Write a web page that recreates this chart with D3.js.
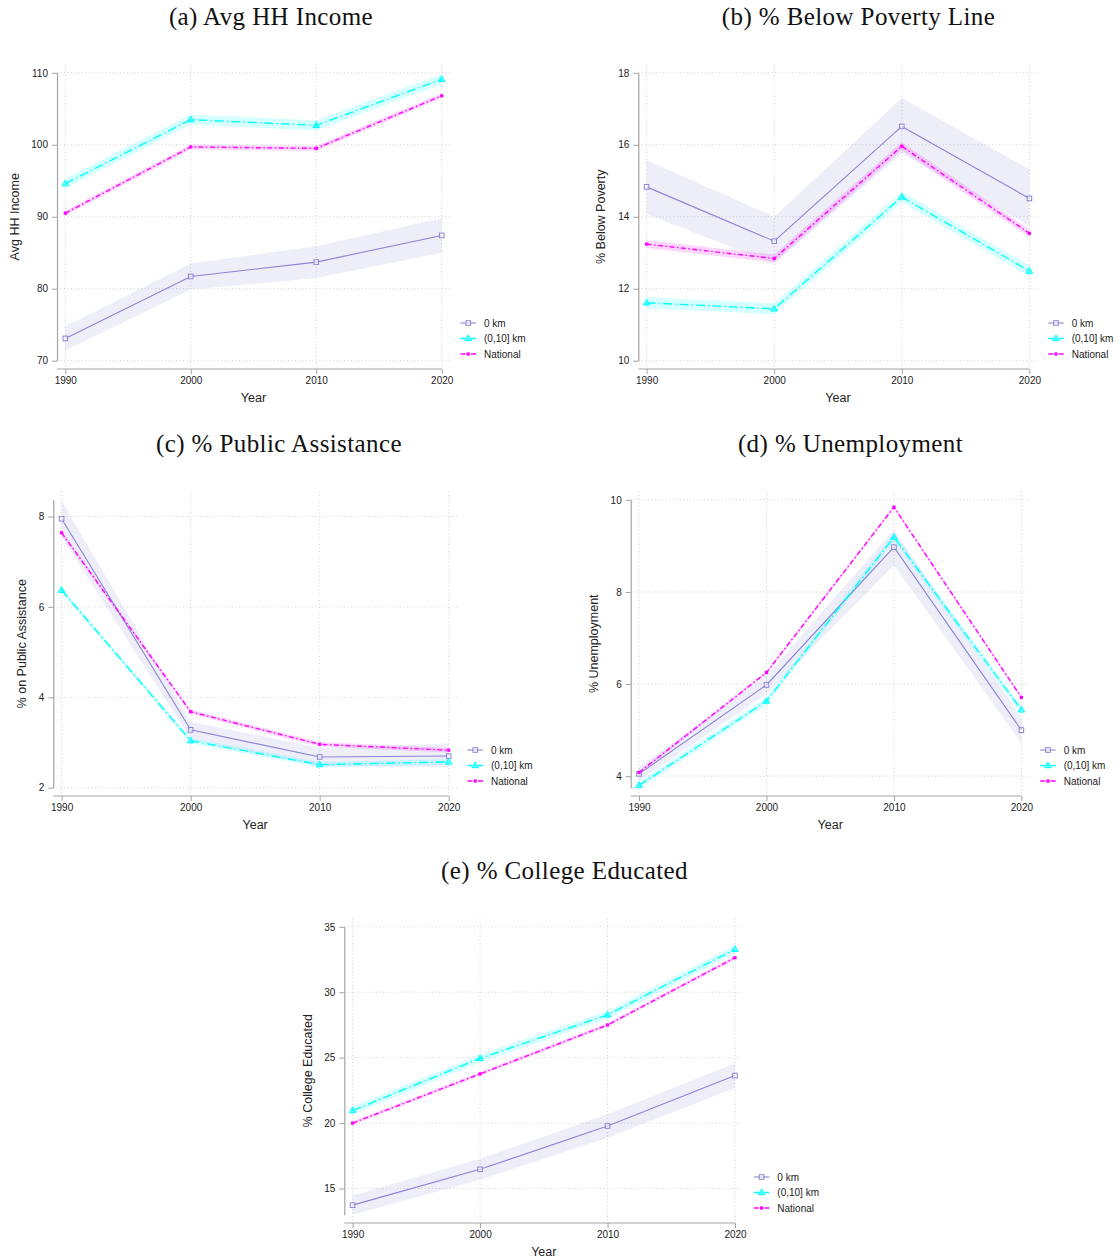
<!DOCTYPE html>
<html>
<head>
<meta charset="utf-8">
<script src="https://cdn.jsdelivr.net/npm/d3@7"></script>
<style>
  body { margin: 0; background: #fff; }
  text { font-family: "Liberation Sans", Arial, Helvetica, sans-serif; }
</style>
</head>
<body>
<svg id="chart" width="1120" height="1260"></svg>
<script>
// ---- data -------------------------------------------------------------
const years = [1990, 2000, 2010, 2020];
const seriesLabels = ["0 km", "(0,10] km", "National"];

// (a) Average household income
const incomeZero   = [73.1, 81.7, 83.7, 87.4];
const incomeZeroLo = [71.4, 79.9, 81.5, 85.0];
const incomeZeroHi = [74.8, 83.5, 85.9, 89.8];
const incomeNear   = [94.6, 103.5, 102.7, 109.1];
const incomeNearLo = [94.0, 102.8, 102.0, 108.4];
const incomeNearHi = [95.3, 104.2, 103.4, 109.8];
const incomeNat    = [90.5, 99.7, 99.5, 106.8];
const incomeNatLo  = [90.15, 99.35, 99.15, 106.45];
const incomeNatHi  = [90.85, 100.05, 99.85, 107.15];
const incomeTicks  = [70, 80, 90, 100, 110];

// (b) Share below poverty line
const povertyZero   = [14.83, 13.32, 16.51, 14.51];
const povertyZeroLo = [14.07, 12.70, 15.75, 13.75];
const povertyZeroHi = [15.57, 14.00, 17.30, 15.32];
const povertyNear   = [11.61, 11.44, 14.55, 12.49];
const povertyNearLo = [11.46, 11.29, 14.40, 12.34];
const povertyNearHi = [11.76, 11.59, 14.70, 12.64];
const povertyNat    = [13.24, 12.84, 15.96, 13.54];
const povertyNatLo  = [13.13, 12.73, 15.85, 13.43];
const povertyNatHi  = [13.35, 12.95, 16.07, 13.65];
const povertyTicks  = [10, 12, 14, 16, 18];

// (c) Share on public assistance
const assistZero   = [7.95, 3.28, 2.68, 2.70];
const assistZeroLo = [7.55, 3.08, 2.48, 2.45];
const assistZeroHi = [8.35, 3.46, 2.88, 2.98];
const assistNear   = [6.37, 3.04, 2.51, 2.57];
const assistNearLo = [6.31, 2.98, 2.45, 2.51];
const assistNearHi = [6.43, 3.10, 2.57, 2.63];
const assistNat    = [7.64, 3.68, 2.96, 2.83];
const assistNatLo  = [7.59, 3.63, 2.91, 2.78];
const assistNatHi  = [7.69, 3.73, 3.01, 2.88];
const assistTicks  = [2, 4, 6, 8];

// (d) Unemployment rate
const unempZero   = [4.05, 5.98, 8.97, 5.00];
const unempZeroLo = [3.90, 5.78, 8.58, 4.72];
const unempZeroHi = [4.20, 6.18, 9.35, 5.27];
const unempNear   = [3.80, 5.63, 9.19, 5.44];
const unempNearLo = [3.72, 5.55, 9.10, 5.36];
const unempNearHi = [3.88, 5.71, 9.28, 5.52];
const unempNat    = [4.08, 6.25, 9.84, 5.71];
const unempNatLo  = [4.04, 6.21, 9.80, 5.67];
const unempNatHi  = [4.12, 6.29, 9.88, 5.75];
const unempTicks  = [4, 6, 8, 10];

// (e) Share college educated
const collegeZero   = [13.73, 16.47, 19.78, 23.63];
const collegeZeroLo = [13.00, 15.67, 18.88, 22.68];
const collegeZeroHi = [14.46, 17.27, 20.68, 24.58];
const collegeNear   = [20.96, 24.95, 28.27, 33.28];
const collegeNearLo = [20.66, 24.65, 27.97, 32.98];
const collegeNearHi = [21.26, 25.25, 28.57, 33.58];
const collegeNat    = [20.00, 23.76, 27.50, 32.64];
const collegeNatLo  = [19.85, 23.61, 27.35, 32.49];
const collegeNatHi  = [20.15, 23.91, 27.65, 32.79];
const collegeTicks  = [15, 20, 25, 30, 35];

// ---- series styling ---------------------------------------------------
const styles = [
  { line: "#8a85d4", band: "#8a85d4", bandOpacity: 0.14, width: 1.1, dash: null,            marker: "hsquare" },
  { line: "#00ffff", band: "#00ffff", bandOpacity: 0.16, width: 1.4, dash: "9,3,1.5,3",     marker: "triangle" },
  { line: "#ff00ff", band: "#ff00ff", bandOpacity: 0.16, width: 1.4, dash: "5,2.5,1.5,2.5", marker: "dot" }
];

// ---- panel definitions (layout kept separate from values) -----------
function series(v, lo, hi) { return years.map((yr, i) => ({ year: yr, v: v[i], lo: lo[i], hi: hi[i] })); }

const panels = [
  { title: "(a) Avg HH Income", ylab: "Avg HH Income", ticks: incomeTicks, domain: [70, 110],
    ox: 0, oy: 0, axisX: 57, right: 450, titleX: 271, ytitleX: 15,
    data: [series(incomeZero, incomeZeroLo, incomeZeroHi), series(incomeNear, incomeNearLo, incomeNearHi), series(incomeNat, incomeNatLo, incomeNatHi)] },
  { title: "(b) % Below Poverty Line", ylab: "% Below Poverty", ticks: povertyTicks, domain: [10, 18],
    ox: 560, oy: 0, axisX: 78.3, right: 477.7, titleX: 298.5, ytitleX: 41,
    data: [series(povertyZero, povertyZeroLo, povertyZeroHi), series(povertyNear, povertyNearLo, povertyNearHi), series(povertyNat, povertyNatLo, povertyNatHi)] },
  { title: "(c) % Public Assistance", ylab: "% on Public Assistance", ticks: assistTicks, domain: [2, 8.37],
    ox: 0, oy: 427, axisX: 53.3, right: 457, titleX: 279, ytitleX: 22,
    data: [series(assistZero, assistZeroLo, assistZeroHi), series(assistNear, assistNearLo, assistNearHi), series(assistNat, assistNatLo, assistNatHi)] },
  { title: "(d) % Unemployment", ylab: "% Unemployment", ticks: unempTicks, domain: [3.75, 10],
    ox: 560, oy: 427, axisX: 70.7, right: 469.7, titleX: 290.5, ytitleX: 34,
    data: [series(unempZero, unempZeroLo, unempZeroHi), series(unempNear, unempNearLo, unempNearHi), series(unempNat, unempNatLo, unempNatHi)] },
  { title: "(e) % College Educated", ylab: "% College Educated", ticks: collegeTicks, domain: [13.0, 35],
    ox: 280, oy: 854, axisX: 64.3, right: 463.3, titleX: 284.5, ytitleX: 28,
    data: [series(collegeZero, collegeZeroLo, collegeZeroHi), series(collegeNear, collegeNearLo, collegeNearHi), series(collegeNat, collegeNatLo, collegeNatHi)] }
];

const TOP = 64.5, BOTTOM = 369, MARGIN = 8.3;
const svg = d3.select("#chart");

function drawMarker(sel, kind, color) {
  if (kind === "hsquare") {
    sel.append("rect").attr("x", -2.3).attr("y", -2.3).attr("width", 4.6).attr("height", 4.6)
      .attr("fill", "#fff").attr("fill-opacity", 0.6).attr("stroke", color).attr("stroke-width", 1);
  } else if (kind === "triangle") {
    sel.append("path").attr("d", "M0,-3.6L3.3,2.2L-3.3,2.2Z")
      .attr("fill", color).attr("fill-opacity", 0.55).attr("stroke", color).attr("stroke-width", 1);
  } else {
    sel.append("rect").attr("x", -1.6).attr("y", -1.6).attr("width", 3.2).attr("height", 3.2).attr("fill", color);
  }
}

panels.forEach(p => {
  const g = svg.append("g").attr("transform", `translate(${p.ox},${p.oy})`);
  const x = d3.scaleLinear().domain([years[0], years[years.length - 1]]).range([p.axisX + MARGIN, p.right - MARGIN]);
  const y = d3.scaleLinear().domain(p.domain).range([BOTTOM - MARGIN, TOP + MARGIN]);

  // title
  g.append("text").attr("x", p.titleX).attr("y", 25).attr("text-anchor", "middle")
    .style("font-family", "'Liberation Serif', 'DejaVu Serif', serif").style("font-size", "25px")
    .style("letter-spacing", "0.4px").attr("fill", "#111")
    .text(p.title);

  // grid
  const grid = g.append("g").attr("stroke", "#cfcfcf").attr("stroke-width", 1).attr("stroke-dasharray", "1,2.5");
  grid.selectAll("line.h").data(p.ticks).join("line").attr("class", "h")
    .attr("x1", p.axisX).attr("x2", p.right).attr("y1", d => y(d)).attr("y2", d => y(d));
  grid.selectAll("line.v").data(years).join("line").attr("class", "v")
    .attr("x1", d => x(d)).attr("x2", d => x(d)).attr("y1", TOP).attr("y2", BOTTOM);

  // confidence bands
  const area = d3.area().x(d => x(d.year)).y0(d => y(d.lo)).y1(d => y(d.hi));
  p.data.forEach((s, i) => {
    g.append("path").datum(s).attr("d", area)
      .attr("fill", styles[i].band).attr("fill-opacity", styles[i].bandOpacity);
  });

  // lines and markers
  const line = d3.line().x(d => x(d.year)).y(d => y(d.v));
  p.data.forEach((s, i) => {
    const st = styles[i];
    g.append("path").datum(s).attr("d", line).attr("fill", "none")
      .attr("stroke", st.line).attr("stroke-width", st.width)
      .attr("stroke-dasharray", st.dash);
    s.forEach(d => {
      const m = g.append("g").attr("transform", `translate(${x(d.year)},${y(d.v)})`);
      drawMarker(m, st.marker, st.line);
    });
  });

  // axes
  const yAxis = g.append("g").attr("transform", `translate(${p.axisX},0)`)
    .call(d3.axisLeft(y).tickValues(p.ticks).tickFormat(d3.format("~g")).tickSize(5).tickSizeOuter(0).tickPadding(4));
  const xAxis = g.append("g").attr("transform", `translate(0,${BOTTOM})`)
    .call(d3.axisBottom(x).tickValues(years).tickFormat(d3.format("d")).tickSize(5).tickSizeOuter(0).tickPadding(3));
  xAxis.select(".domain").remove();
  xAxis.append("line").attr("x1", p.axisX).attr("x2", x(years[years.length - 1]))
    .attr("y1", 0).attr("y2", 0).attr("stroke", "#a3a3a3").attr("stroke-width", 1.2);
  [yAxis, xAxis].forEach(a => {
    a.selectAll(".domain").attr("stroke", "#a3a3a3").attr("stroke-width", 1.2);
    a.selectAll(".tick line").attr("stroke", "#a3a3a3");
    a.selectAll(".tick text").attr("fill", "#222").style("font-size", "10px")
      .style("font-family", "'Liberation Sans', Arial, sans-serif");
  });

  // axis titles
  g.append("text").attr("x", (p.axisX + p.right) / 2).attr("y", 402).attr("text-anchor", "middle")
    .style("font-size", "12.5px").attr("fill", "#222").text("Year");
  g.append("text").attr("transform", `translate(${p.ytitleX},${(TOP + BOTTOM) / 2}) rotate(-90)`)
    .attr("text-anchor", "middle").attr("dy", "0.35em")
    .style("font-size", "12.5px").attr("fill", "#222").text(p.ylab);

  // legend
  const rows = [323, 338.5, 354];
  const lg = g.append("g").attr("transform", `translate(${p.right + 10.5},0)`);
  seriesLabels.forEach((lab, i) => {
    const st = styles[i];
    lg.append("line").attr("x1", 0).attr("x2", 15.5).attr("y1", rows[i]).attr("y2", rows[i])
      .attr("stroke", st.line).attr("stroke-width", st.width).attr("stroke-dasharray", st.dash ? "5,2,1.5,2" : null);
    drawMarker(lg.append("g").attr("transform", `translate(7.75,${rows[i]})`), st.marker, st.line);
    lg.append("text").attr("x", 23.5).attr("y", rows[i]).attr("dy", "0.35em")
      .style("font-size", "10px").attr("fill", "#222").text(lab);
  });
});
</script>
</body>
</html>
